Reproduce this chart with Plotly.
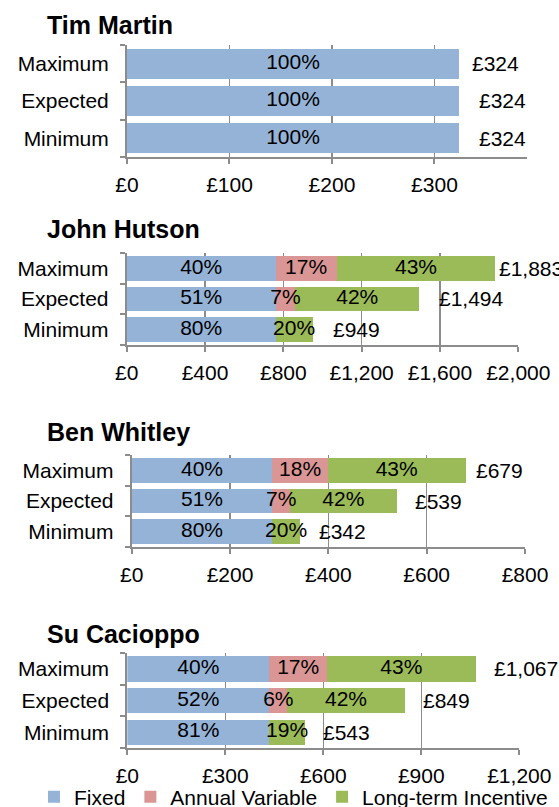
import plotly.graph_objects as go

W, H = 559, 807

names = ["Tim Martin", "John Hutson", "Ben Whitley", "Su Cacioppo"]
scenarios = ["Maximum", "Expected", "Minimum"]
components = ["Fixed", "Annual Variable", "Long-term Incentive"]
colors = ["#95B3D7", "#D99694", "#9BBB59"]

tim_fixed = [324, 324, 324]
tim_av = [0, 0, 0]
tim_lti = [0, 0, 0]
john_fixed = [761, 761, 761]
john_av = [311, 100, 0]
john_lti = [811, 633, 188]
ben_fixed = [286, 286, 286]
ben_av = [113, 36, 0]
ben_lti = [280, 217, 56]
su_fixed = [435, 435, 435]
su_av = [176, 55, 0]
su_lti = [456, 359, 108]

tim_pct = [["100%", "100%", "100%"], ["", "", ""], ["", "", ""]]
john_pct = [["40%", "51%", "80%"], ["17%", "7%", ""], ["43%", "42%", "20%"]]
ben_pct = [["40%", "51%", "80%"], ["18%", "7%", ""], ["43%", "42%", "20%"]]
su_pct = [["40%", "52%", "81%"], ["17%", "6%", ""], ["43%", "42%", "19%"]]

tim_ticks = [0, 100, 200, 300]
john_ticks = [0, 400, 800, 1200, 1600, 2000]
ben_ticks = [0, 200, 400, 600, 800]
su_ticks = [0, 300, 600, 900, 1200]

panels = [
    dict(name=names[0], series=[tim_fixed, tim_av, tim_lti], pct=tim_pct, ticks=tim_ticks,
         xmax=390, xpx=(127, 526.7), ypx=(45, 157), shifts=[11, 18, 18], title_y=25),
    dict(name=names[1], series=[john_fixed, john_av, john_lti], pct=john_pct, ticks=john_ticks,
         xmax=2000, xpx=(126.7, 518.3), ypx=(253, 345), shifts=[2, 18, 18], title_y=229),
    dict(name=names[2], series=[ben_fixed, ben_av, ben_lti], pct=ben_pct, ticks=ben_ticks,
         xmax=800, xpx=(131.7, 525), ypx=(455, 547), shifts=[8, 16, 17], title_y=432),
    dict(name=names[3], series=[su_fixed, su_av, su_lti], pct=su_pct, ticks=su_ticks,
         xmax=1200, xpx=(127.3, 519.3), ypx=(653, 748), shifts=[16, 16, 16], title_y=634),
]

FONT = "Liberation Sans, Arial, sans-serif"
GRID = "#8C8C8C"

fig = go.Figure()
annotations = []
layout_axes = {}

for i, p in enumerate(panels):
    n = i + 1
    xa = "x" if n == 1 else f"x{n}"
    ya = "y" if n == 1 else f"y{n}"
    cum = [0, 0, 0]
    for k, vals in enumerate(p["series"]):
        fig.add_trace(go.Bar(
            x=vals, y=scenarios, orientation="h", name=components[k],
            marker=dict(color=colors[k], line=dict(width=0)),
            xaxis=xa, yaxis=ya, showlegend=(i == 0), legendgroup=components[k],
            hoverinfo="skip",
        ))
        centers = [c + v / 2 for c, v in zip(cum, vals)]
        fig.add_trace(go.Scatter(
            x=centers, y=scenarios, mode="text", text=p["pct"][k],
            textposition="middle center", textfont=dict(size=21, color="black", family=FONT),
            xaxis=xa, yaxis=ya, showlegend=False, hoverinfo="skip", cliponaxis=False,
        ))
        cum = [c + v for c, v in zip(cum, vals)]
    for j, s in enumerate(scenarios):
        annotations.append(dict(
            x=cum[j], y=s, xref=xa, yref=ya, text=f"£{cum[j]:,}", showarrow=False,
            xanchor="left", yanchor="middle", xshift=p["shifts"][j],
            font=dict(size=21, color="black", family=FONT),
        ))
    annotations.append(dict(
        x=45 / W, y=1 - p["title_y"] / H, xref="paper", yref="paper",
        text=f"<b>{p['name']}</b>", showarrow=False, xanchor="left", yanchor="middle",
        font=dict(size=25, color="black", family=FONT),
    ))
    x0, x1 = p["xpx"]
    y0, y1 = p["ypx"]
    xkey = "xaxis" if n == 1 else f"xaxis{n}"
    ykey = "yaxis" if n == 1 else f"yaxis{n}"
    layout_axes[xkey] = dict(
        domain=[x0 / W, x1 / W], anchor=ya, range=[0, p["xmax"]], automargin=False,
        tickmode="array", tickvals=p["ticks"], ticktext=[f"£{t:,}" for t in p["ticks"]],
        showgrid=True, gridcolor=GRID, gridwidth=1.5,
        showline=True, linecolor=GRID, linewidth=2,
        ticks="outside", ticklen=5, tickcolor=GRID, tickwidth=2,
        ticklabelstandoff=3,
        tickfont=dict(size=21, color="black", family=FONT), zeroline=False, fixedrange=True,
    )
    layout_axes[ykey] = dict(
        domain=[1 - y1 / H, 1 - y0 / H], anchor=xa, type="category", automargin=False,
        categoryorder="array", categoryarray=scenarios[::-1],
        showline=True, linecolor=GRID, linewidth=2,
        ticks="outside", ticklen=5, tickcolor=GRID, tickwidth=2, tickson="boundaries",
        ticklabelstandoff=12, showgrid=False,
        tickfont=dict(size=21, color="black", family=FONT), fixedrange=True,
    )

fig.update_layout(
    width=W, height=H, margin=dict(l=0, r=0, t=0, b=0, autoexpand=False),
    paper_bgcolor="white", plot_bgcolor="white",
    barmode="stack", bargap=0.2,
    font=dict(family=FONT, size=21, color="black"),
    annotations=annotations,
    legend=dict(orientation="h", x=34 / W, xanchor="left", y=1 - 797 / H, yanchor="middle",
                font=dict(size=21, color="black", family=FONT),
                itemwidth=30, traceorder="normal", bgcolor="rgba(0,0,0,0)"),
    **layout_axes,
)

fig.write_html(
    "out.html",
    config={"displayModeBar": False, "staticPlot": True},
    post_script="document.body.style.margin='0';document.body.style.padding='0';"
                "document.documentElement.style.overflow='hidden';",
)
